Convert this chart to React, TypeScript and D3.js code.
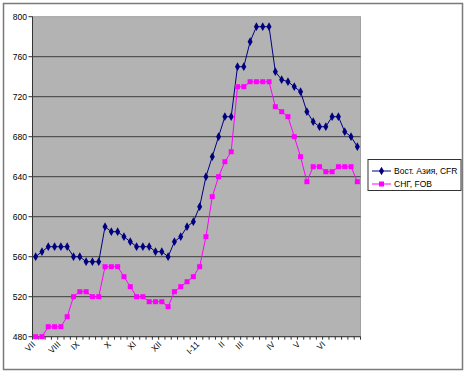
import * as d3 from 'd3'

// weekly prices, Jul .. Jun
const eastAsiaCFR = [
  560, 565, 570, 570, 570, 570, 560, 560, 555, 555, 555, 590, 585, 585, 580, 575, 570, 570, 570, 565, 565, 560,
  575, 580, 590, 595, 610, 640, 660, 680, 700, 700, 750, 750, 775, 790, 790, 790, 745, 737, 735, 730, 725, 705,
  695, 690, 690, 700, 700, 685, 680, 670,
]
const cisFOB = [
  480, 480, 490, 490, 490, 500, 520, 525, 525, 520, 520, 550, 550, 550, 540, 530, 520, 520, 515, 515, 515, 510,
  525, 530, 535, 540, 550, 580, 620, 640, 655, 665, 730, 730, 735, 735, 735, 735, 710, 705, 700, 680, 660, 635,
  650, 650, 645, 645, 650, 650, 650, 635,
]
const monthLabels = ['VII', 'VIII', 'IX', 'X', 'XI', 'XII', 'I-11', 'II', 'III', 'IV', 'V', 'VI']
const monthAt = [0, 4, 7, 12, 16, 20, 26, 30, 33, 38, 42, 46]
const yTicks = [480, 520, 560, 600, 640, 680, 720, 760, 800]
const seriesNames = ['Вост. Азия, CFR', 'СНГ, FOB']

const W = 467
const H = 374
const plot = { left: 32.5, right: 360.5, top: 16.7, bottom: 336.7 }
const font = 'Arial, "Liberation Sans", sans-serif'
const fs = 8.5

export default function App() {
  const idx = d3.range(eastAsiaCFR.length)
  const x = d3.scaleBand<number>().domain(idx).range([plot.left, plot.right])
  const cx = (i: number) => (x(i) as number) + x.bandwidth() / 2
  const y = d3.scaleLinear().domain([480, 800]).range([plot.bottom, plot.top])

  const line = d3
    .line<number>()
    .x((_, i) => cx(i))
    .y((d) => y(d))

  const diamond = d3.symbol(d3.symbolDiamond, 22)()
  const tickXs = d3.range(eastAsiaCFR.length + 1).map((i) => plot.left + i * x.step())

  return (
    <svg width={W} height={H} style={{ position: 'fixed', left: 0, top: 0, background: '#fff' }} fontFamily={font}>
      <rect x={3.5} y={3.5} width={459} height={366} fill="#fff" stroke="#7a7a7a" strokeWidth={1.5} />
      <rect x={plot.left} y={plot.top} width={plot.right - plot.left} height={plot.bottom - plot.top} fill="#b3b3b3" stroke="#a0a0a0" strokeWidth={1} />

      {yTicks.map((t) => (
        <g key={t}>
          {t > 480 && t < 800 && (
            <line x1={plot.left} x2={plot.right} y1={y(t)} y2={y(t)} stroke="#3c3c3c" strokeWidth={1} />
          )}
          <line x1={plot.left - 4} x2={plot.left} y1={y(t)} y2={y(t)} stroke="#333" />
          <text x={27} y={y(t)} dy="0.35em" fontSize={fs} textAnchor="end" fill="#000">
            {t}
          </text>
        </g>
      ))}

      <line x1={plot.left} x2={plot.left} y1={plot.top} y2={plot.bottom} stroke="#333" />
      <line x1={plot.left} x2={plot.right} y1={plot.bottom} y2={plot.bottom} stroke="#333" />
      {tickXs.map((tx, i) => (
        <line key={i} x1={tx} x2={tx} y1={plot.bottom} y2={plot.bottom + 3} stroke="#333" />
      ))}
      {monthLabels.map((m, k) => (
        <text
          key={m}
          x={0}
          y={0}
          fontSize={fs}
          textAnchor="end"
          dy="0.7em"
          style={{
            transformOrigin: '0 0',
            transform: `translate(${cx(monthAt[k]) - 4}px, ${plot.bottom + 4}px) rotate(-45deg)`,
          }}
        >
          {m}
        </text>
      ))}

      <path d={line(eastAsiaCFR) ?? ''} fill="none" stroke="#000080" strokeWidth={1} />
      {eastAsiaCFR.map((v, i) => (
        <path key={i} d={diamond ?? ''} transform={`translate(${cx(i)},${y(v)})`} fill="#000080" />
      ))}
      <path d={line(cisFOB) ?? ''} fill="none" stroke="#ff00ff" strokeWidth={1} />
      {cisFOB.map((v, i) => (
        <rect key={i} x={cx(i) - 2.5} y={y(v) - 2.5} width={5} height={5} fill="#ff00ff" />
      ))}

      <g>
        <rect x={368} y={159.5} width={93} height={31} fill="#fff" stroke="#333" strokeWidth={1} />
        <line x1={372} x2={391} y1={171} y2={171} stroke="#000080" />
        <path d={diamond ?? ''} transform="translate(381.5,171)" fill="#000080" />
        <text x={394} y={171} dy="0.35em" fontSize={fs}>
          {seriesNames[0]}
        </text>
        <line x1={372} x2={391} y1={184} y2={184} stroke="#ff00ff" />
        <rect x={379} y={181.5} width={5} height={5} fill="#ff00ff" />
        <text x={394} y={184} dy="0.35em" fontSize={fs}>
          {seriesNames[1]}
        </text>
      </g>
    </svg>
  )
}
